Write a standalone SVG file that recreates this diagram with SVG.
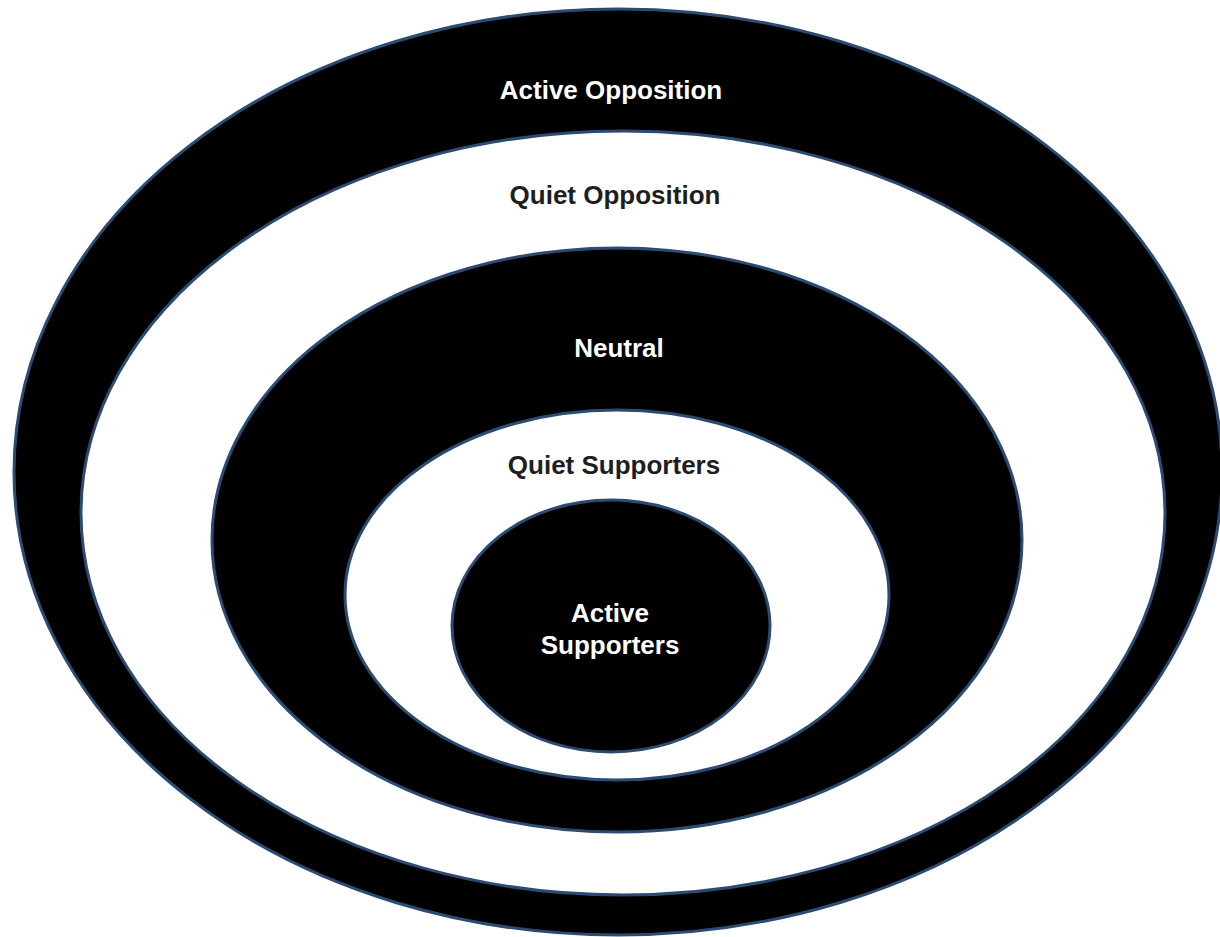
<svg xmlns="http://www.w3.org/2000/svg" width="1220" height="937" viewBox="0 0 1220 937">
<style>
.ring{stroke:#2b4b72;stroke-width:3}
.blk{fill:#000}
.wht{fill:#fff}
.lbl{font-family:"Liberation Sans",Arial,sans-serif;font-weight:bold;font-size:26px;text-anchor:middle}
.lw{fill:#fff}
.ld{fill:#1e1e1e}
</style>
<rect width="1220" height="937" fill="#fff"/>
<g id="active-opposition">
<ellipse class="ring blk" cx="618" cy="472" rx="604" ry="463"/>
<text class="lbl lw" x="611" y="99">Active Opposition</text>
</g>
<g id="quiet-opposition">
<ellipse class="ring wht" cx="623" cy="513" rx="542" ry="382"/>
<text class="lbl ld" x="615" y="204">Quiet Opposition</text>
</g>
<g id="neutral">
<ellipse class="ring blk" cx="617" cy="540" rx="405" ry="292"/>
<text class="lbl lw" x="619" y="357">Neutral</text>
</g>
<g id="quiet-supporters">
<ellipse class="ring wht" cx="617" cy="595" rx="272" ry="185"/>
<text class="lbl ld" x="614" y="474">Quiet Supporters</text>
</g>
<g id="active-supporters">
<ellipse class="ring blk" cx="611" cy="626" rx="159" ry="126"/>
<text class="lbl lw" x="610" y="622">Active</text>
<text class="lbl lw" x="610" y="654">Supporters</text>
</g>
<g id="connectors"/>
</svg>
